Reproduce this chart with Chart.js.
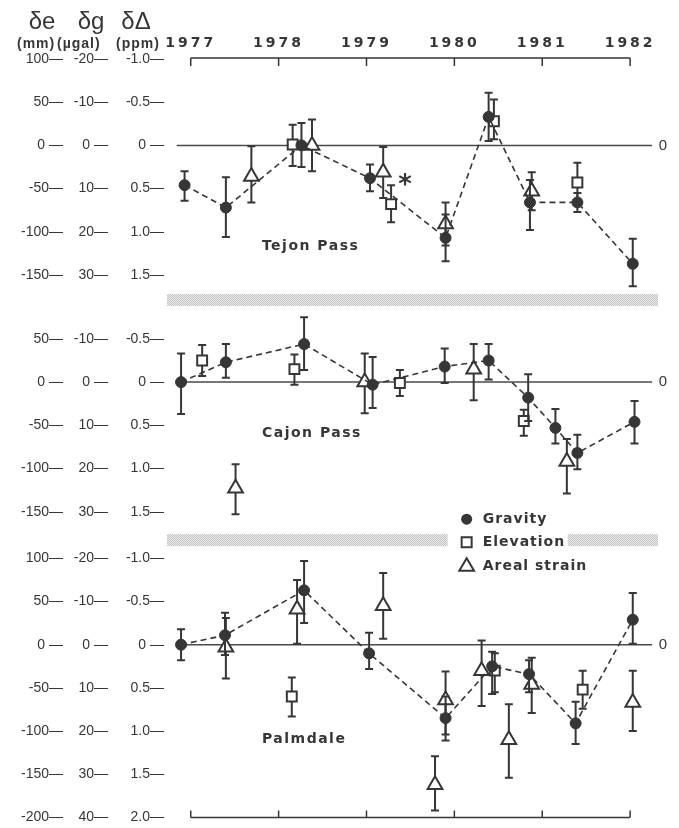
<!DOCTYPE html>
<html>
<head>
<meta charset="utf-8">
<script src="https://cdn.jsdelivr.net/npm/chart.js@4.4.1/dist/chart.umd.min.js"></script>
<style>
  html, body { margin: 0; padding: 0; background: #fff; }
  #wrap { width: 679px; height: 828px; }
</style>
</head>
<body>
<div id="wrap"><canvas id="fig" width="679" height="828"></canvas></div>
<script>
"use strict";

// rows: [decimal year, value (mm), error low, error high]
const tejonGravity = [
  [1976.93, -46, -64, -30], [1977.40, -72, -106, -37], [1978.26, 0, -25, 26],
  [1979.04, -38, -53, -22], [1979.90, -107, -134, -80], [1980.39, 33, 5, 61],
  [1980.86, -66, -98, -40], [1981.40, -66, -77, -55], [1982.03, -137, -163, -108]
];
const tejonElevation = [
  [1978.16, 1, -24, 24], [1979.28, -68, -89, -46], [1980.45, 28, 7, 53], [1981.40, -43, -66, -20]
];
const tejonStrain = [
  [1977.69, -36, -66, -1], [1978.38, 0, -30, 30], [1979.19, -31, -61, -2],
  [1979.90, -91, -116, -66], [1980.88, -53, -75, -31]
];

const cajonGravity = [
  [1976.89, 0, -37, 33], [1977.40, 23, 5, 44], [1978.29, 44, 14, 75],
  [1979.07, -3, -30, 29], [1979.89, 18, -1, 39], [1980.39, 25, 3, 44],
  [1980.84, -18, -45, 9], [1981.15, -53, -71, -31], [1981.40, -82, -101, -61],
  [1982.05, -46, -71, -22]
];
const cajonElevation = [
  [1977.13, 25, 7, 43], [1978.18, 15, -3, 32], [1979.38, -1, -16, 14], [1980.79, -45, -62, -32]
];
const cajonStrain = [
  [1977.51, -123, -153, -95], [1978.98, 0, -36, 33], [1980.22, 15, -21, 44], [1981.28, -92, -129, -66]
];

const palmGravity = [
  [1976.89, 0, -18, 18], [1977.39, 11, -12, 37], [1978.29, 63, 25, 97],
  [1979.03, -10, -28, 14], [1979.90, -85, -111, -60], [1980.43, -25, -57, -8],
  [1980.85, -34, -55, -18], [1981.38, -91, -115, -66], [1982.03, 29, 1, 60]
];
const palmElevation = [
  [1978.15, -60, -83, -38], [1980.46, -30, -55, -10], [1981.46, -52, -74, -30]
];
const palmStrain = [
  [1977.40, -3, -39, 31], [1978.21, 41, 1, 75], [1979.19, 45, 7, 83],
  [1979.90, -64, -104, -31], [1979.78, -162, -192, -129], [1980.31, -30, -71, 5],
  [1980.62, -110, -154, -69], [1980.88, -46, -79, -15], [1982.03, -67, -100, -30]
];

const yearTicks = [1977, 1978, 1979, 1980, 1981, 1982];
const tejonTicks = [100, 50, 0, -50, -100, -150];
const cajonTicks = [50, 0, -50, -100, -150];
const palmTicks = [100, 50, 0, -50, -100, -150, -200];

// panel ranges in mm
const tejonRange = [-179, 100];
const cajonRange = [-183, 95];
const palmRange = [-200, 121];
const zeroSpan = [1976.84, 1982.25];

// other scales: 5 mm = -1 µgal, 100 mm = -1 ppm
const galPerMm = -0.2;
const ppmPerMm = -0.01;

const ink = '#363636';
Chart.defaults.font.family = 'Liberation Sans';
Chart.defaults.color = ink;

const fmtMm = v => v === 0 ? '0 ' : String(v);
const fmtGal = v => Math.abs(v) < 1e-9 ? '0 ' : String(Math.round(v));
const fmtPpm = v => Math.abs(v) < 1e-9 ? '0 ' : v.toFixed(1);

function yAxis(range, ticks, factor, stack, weight, width, fmt) {
  const a = range[0] * factor, b = range[1] * factor;
  return {
    type: 'linear',
    position: 'left',
    stack: stack,
    stackWeight: range[1] - range[0],
    weight: weight,
    min: Math.min(a, b),
    max: Math.max(a, b),
    reverse: factor < 0,
    grid: { display: false, drawTicks: false },
    border: { display: false },
    ticks: { color: ink, font: { size: 14 }, padding: 3, autoSkip: false, callback: v => fmt(v) + '—' },
    afterBuildTicks: s => { s.ticks = ticks.map(v => ({ value: v * factor })); },
    afterFit: s => { s.width = width; s.paddingTop = 0; s.paddingBottom = 0; }
  };
}

const panels = [
  { id: 'yT', range: tejonRange, ticks: tejonTicks, name: 'Tejon Pass', labelY: -117 },
  { id: 'yC', range: cajonRange, ticks: cajonTicks, name: 'Cajon Pass', labelY: -59 },
  { id: 'yP', range: palmRange, ticks: palmTicks, name: 'Palmdale', labelY: -109 }
];

const scales = {
  x: {
    type: 'linear', position: 'top', min: 1976.73, max: 1982.34,
    grid: { display: false, drawTicks: false },
    border: { display: false },
    ticks: { color: ink, font: { family: 'DejaVu Sans', size: 14, weight: 'bold' }, padding: 7, autoSkip: false, callback: v => String(v) },
    afterBuildTicks: s => { s.ticks = yearTicks.map(v => ({ value: v })); },
    afterFit: s => { s.height = 59; s.paddingLeft = 0; s.paddingRight = 0; }
  }
};
panels.forEach((p, i) => {
  scales[p.id] = yAxis(p.range, p.ticks, 1, 'mm', 9 - i, 66, fmtMm);
  scales[p.id + 'g'] = yAxis(p.range, p.ticks, galPerMm, 'gal', 6 - i, 45, fmtGal);
  scales[p.id + 'p'] = yAxis(p.range, p.ticks, ppmPerMm, 'ppm', 3 - i, 56, fmtPpm);
});

function series(rows, axis, kind) {
  const ds = {
    data: rows.map(r => ({ x: r[0], y: r[1] })),
    err: rows.map(r => [r[2], r[3]]),
    yAxisID: axis,
    pointBorderColor: ink,
    pointBorderWidth: 2,
    pointBackgroundColor: '#fff'
  };
  if (kind === 'gravity') {
    Object.assign(ds, { showLine: true, borderColor: ink, borderWidth: 1.6, borderDash: [6, 4],
      pointStyle: 'circle', pointRadius: 5.5, pointBorderWidth: 1, pointBackgroundColor: ink, order: 1 });
  } else if (kind === 'elevation') {
    Object.assign(ds, { showLine: false, pointStyle: 'rect', pointRadius: 7, order: 2 });
  } else {
    Object.assign(ds, { showLine: false, pointStyle: 'triangle', pointRadius: 8.5, order: 3 });
  }
  return ds;
}

function zeroLine(axis) {
  return { data: zeroSpan.map(x => ({ x: x, y: 0 })), yAxisID: axis, showLine: true,
    borderColor: '#4a4a4a', borderWidth: 1.5, pointRadius: 0, order: 9 };
}

const datasets = [
  zeroLine('yT'), zeroLine('yC'), zeroLine('yP'),
  series(tejonStrain, 'yT', 'strain'), series(tejonElevation, 'yT', 'elevation'), series(tejonGravity, 'yT', 'gravity'),
  series(cajonStrain, 'yC', 'strain'), series(cajonElevation, 'yC', 'elevation'), series(cajonGravity, 'yC', 'gravity'),
  series(palmStrain, 'yP', 'strain'), series(palmElevation, 'yP', 'elevation'), series(palmGravity, 'yP', 'gravity')
];

// vertical error bars with caps, drawn under each dataset's markers
const errorBars = {
  id: 'errorBars',
  beforeDatasetDraw(chart, args) {
    const ds = chart.data.datasets[args.index];
    if (!ds.err) return;
    const ys = chart.scales[ds.yAxisID];
    const ctx = chart.ctx;
    ctx.save();
    ctx.strokeStyle = ink;
    ctx.lineWidth = 2;
    args.meta.data.forEach((pt, i) => {
      const y1 = ys.getPixelForValue(ds.err[i][0]);
      const y2 = ys.getPixelForValue(ds.err[i][1]);
      ctx.beginPath();
      ctx.moveTo(pt.x, y1); ctx.lineTo(pt.x, y2);
      ctx.moveTo(pt.x - 4, y1); ctx.lineTo(pt.x + 4, y1);
      ctx.moveTo(pt.x - 4, y2); ctx.lineTo(pt.x + 4, y2);
      ctx.stroke();
    });
    ctx.restore();
  }
};

function stipple(ctx) {
  const c = document.createElement('canvas');
  c.width = 2; c.height = 2;
  const g = c.getContext('2d');
  g.fillStyle = '#ececec'; g.fillRect(0, 0, 2, 2);
  g.fillStyle = '#c2c2c2'; g.fillRect(0, 0, 1, 1); g.fillRect(1, 1, 1, 1);
  return ctx.createPattern(c, 'repeat');
}

function mark(ctx, kind, x, y) {
  ctx.save();
  ctx.lineWidth = 2; ctx.strokeStyle = ink; ctx.fillStyle = '#fff';
  ctx.beginPath();
  if (kind === 'circle') {
    ctx.fillStyle = ink; ctx.arc(x, y, 5.5, 0, Math.PI * 2); ctx.fill();
  } else if (kind === 'rect') {
    ctx.rect(x - 5, y - 5, 10, 10); ctx.fill(); ctx.stroke();
  } else {
    ctx.moveTo(x, y - 8); ctx.lineTo(x + 7.4, y + 4.5); ctx.lineTo(x - 7.4, y + 4.5); ctx.closePath();
    ctx.fill(); ctx.stroke();
  }
  ctx.restore();
}

function text(ctx, str, x, y, font, align, spacing) {
  ctx.save();
  ctx.font = font;
  ctx.fillStyle = ink;
  ctx.textAlign = align || 'left';
  ctx.textBaseline = 'middle';
  ctx.letterSpacing = spacing || '0px';
  ctx.fillText(str, x, y);
  ctx.restore();
}

const decor = {
  id: 'decor',
  beforeDraw(chart) {
    const xs = chart.scales.x;
    if (!xs._spaced) {
      const orig = xs.drawLabels;
      xs.drawLabels = function (area) {
        this.ctx.save(); this.ctx.letterSpacing = '3px'; orig.call(this, area); this.ctx.restore();
      };
      xs._spaced = true;
    }
  },
  beforeDatasetsDraw(chart) {
    const ctx = chart.ctx, area = chart.chartArea, xs = chart.scales.x;
    const legendX = xs.getPixelForValue(1980.14);
    ctx.save();
    ctx.fillStyle = stipple(ctx);
    const b1 = chart.scales.yT.bottom, b2 = chart.scales.yC.bottom;
    ctx.fillRect(area.left, b1 - 6, area.right - 2 - area.left, 12);
    ctx.fillRect(area.left, b2 - 6, legendX - 19 - area.left, 12);
    ctx.fillRect(legendX + 101, b2 - 6, area.right - 2 - legendX - 101, 12);

    // bracket axes top and bottom
    const x0 = xs.getPixelForValue(yearTicks[0]);
    const x1 = xs.getPixelForValue(yearTicks[yearTicks.length - 1]);
    ctx.strokeStyle = ink;
    ctx.lineWidth = 1.5;
    ctx.beginPath();
    const top = area.top - 1, bot = area.bottom;
    ctx.moveTo(x0, top); ctx.lineTo(x1, top);
    ctx.moveTo(x0, bot); ctx.lineTo(x1, bot);
    yearTicks.forEach(yr => {
      const px = xs.getPixelForValue(yr);
      ctx.moveTo(px, top); ctx.lineTo(px, top + 8);
      ctx.moveTo(px, bot); ctx.lineTo(px, bot - 7);
    });
    ctx.stroke();
    ctx.restore();
  },
  afterDraw(chart) {
    const ctx = chart.ctx, xs = chart.scales.x;
    const bold = 'bold 14px "DejaVu Sans"';

    panels.forEach(p => {
      const ys = chart.scales[p.id];
      text(ctx, '0', 663, ys.getPixelForValue(0), '15px "Liberation Sans"', 'center');
      text(ctx, p.name, xs.getPixelForValue(1977.81), ys.getPixelForValue(p.labelY), bold, 'left', '1.5px');
    });

    // asterisk beside the 1979 Tejon elevation point
    text(ctx, '*', xs.getPixelForValue(1979.44), chart.scales.yT.getPixelForValue(-41) + 5, 'bold 26px "DejaVu Sans"', 'center');

    // legend
    const lx = xs.getPixelForValue(1980.14), ly = chart.scales.yC.bottom;
    const items = [['circle', 'Gravity', -21], ['rect', 'Elevation', 2], ['triangle', 'Areal strain', 26]];
    items.forEach(it => {
      mark(ctx, it[0], lx, ly + it[2]);
      text(ctx, it[1], lx + 16, ly + it[2], bold, 'left', '1px');
    });

    // axis headings
    text(ctx, 'δe', 42, 22, '24px "Liberation Sans"', 'center');
    text(ctx, 'δg', 91, 22, '24px "Liberation Sans"', 'center');
    text(ctx, 'δΔ', 136, 22, '24px "Liberation Sans"', 'center');
    text(ctx, '(mm)', 17, 44, 'bold 14px "Liberation Sans"', 'left', '1px');
    text(ctx, '(µgal)', 57, 44, 'bold 14px "Liberation Sans"', 'left', '1px');
    text(ctx, '(ppm)', 116, 44, 'bold 14px "Liberation Sans"', 'left', '1px');
  }
};

new Chart(document.getElementById('fig'), {
  type: 'scatter',
  data: { datasets: datasets },
  options: {
    responsive: false,
    animation: false,
    events: [],
    layout: { padding: { left: 0, right: 19, top: 0, bottom: 5 } },
    plugins: { legend: { display: false }, tooltip: { enabled: false } },
    scales: scales
  },
  plugins: [errorBars, decor]
});
</script>
</body>
</html>
